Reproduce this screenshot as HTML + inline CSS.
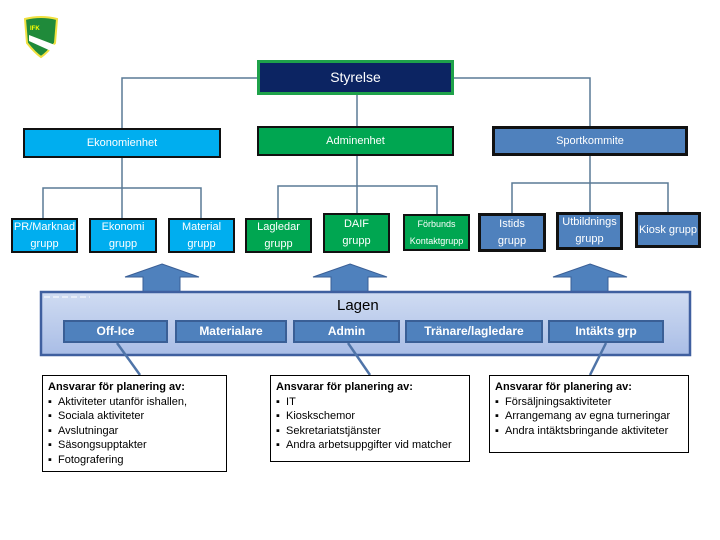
<!DOCTYPE html>
<html><head><meta charset="utf-8"><style>
body{margin:0;width:720px;height:540px;background:#fff;position:relative;overflow:hidden;font-family:"Liberation Sans",sans-serif;}
.b{position:absolute;box-sizing:border-box;display:flex;align-items:center;justify-content:center;text-align:center;color:#fff;font-size:11px;line-height:17px;}
.lb{background:#00aeef;border:2px solid #111;}
.gr{background:#00a651;border:2px solid #111;}
.bl{background:#4f81bd;border:3px solid #111;}
.in{background:#4f81bd;border:2px solid #3a5f96;font-weight:bold;font-size:12px;}
.t{position:absolute;box-sizing:border-box;border:1.5px solid #000;background:#fff;font-size:11px;line-height:14.5px;padding:4px 5px;color:#000;}
.t b{font-weight:bold;}
</style></head><body>
<svg width="720" height="540" style="position:absolute;left:0;top:0">
<g stroke="#5a7a96" stroke-width="1.5" fill="none">
<path d="M257 78H122V128"/><path d="M454 78H590V126"/><path d="M357 95V126"/>
<path d="M122 158V218M43 218V188H201V218"/>
<path d="M357 156V218M278 218V186H437V218"/>
<path d="M590 156V218M512 218V183H668V218"/>
</g>
<g fill="#4f81bd" stroke="#3a5f96" stroke-width="1">
<path d="M162 264L199 277H180V292H143V277H125Z"/>
<path d="M350 264L387 277H368V292H331V277H313Z"/>
<path d="M590 264L627 277H608V292H571V277H553Z"/>
</g>
<defs><linearGradient id="g" x1="0" y1="0" x2="0" y2="1"><stop offset="0" stop-color="#d0dcf2"/><stop offset="1" stop-color="#a9bde6"/></linearGradient></defs>
<rect x="41" y="292" width="649" height="63" fill="url(#g)" stroke="#3f5f9f" stroke-width="2.5"/>
<path d="M44 297H90" stroke="#fff" stroke-dasharray="6,3"/>
<g stroke="#4f74a8" stroke-width="2.5">
<path d="M117 343L140 375"/><path d="M348 343L370 375"/><path d="M606 343L590 375"/>
</g>
<g transform="translate(41,37)">
<path d="M-16 -18Q0 -22 16 -18L14 6Q6 16 0 20Q-6 16 -14 6Z" fill="#1f8a3a" stroke="#f0e040" stroke-width="2"/>
<path d="M-12 -2L14 8L10 14L-12 4Z" fill="#fff"/>
<text x="-11" y="-7" font-size="6" fill="#ff0" font-weight="bold">IFK</text>
</g>
</svg>
<div class="b" style="left:257px;top:60px;width:197px;height:35px;background:#0c2462;border:3px solid #1fa24a;font-size:14px;">Styrelse</div>
<div class="b lb" style="left:23px;top:128px;width:198px;height:30px;">Ekonomienhet</div>
<div class="b gr" style="left:257px;top:126px;width:197px;height:30px;">Adminenhet</div>
<div class="b bl" style="left:492px;top:126px;width:196px;height:30px;">Sportkommite</div>
<div class="b lb" style="left:11px;top:218px;width:67px;height:35px;">PR/Marknad<br>grupp</div>
<div class="b lb" style="left:89px;top:218px;width:68px;height:35px;">Ekonomi<br>grupp</div>
<div class="b lb" style="left:168px;top:218px;width:67px;height:35px;">Material<br>grupp</div>
<div class="b gr" style="left:245px;top:218px;width:67px;height:35px;">Lagledar<br>grupp</div>
<div class="b gr" style="left:323px;top:213px;width:67px;height:40px;">DAIF<br>grupp</div>
<div class="b gr" style="left:403px;top:214px;width:67px;height:37px;font-size:9px;">Förbunds<br>Kontaktgrupp</div>
<div class="b bl" style="left:478px;top:213px;width:68px;height:39px;">Istids<br>grupp</div>
<div class="b bl" style="left:556px;top:212px;width:67px;height:38px;">Utbildnings<br>grupp</div>
<div class="b bl" style="left:635px;top:212px;width:66px;height:36px;">Kiosk grupp</div>
<div style="position:absolute;left:337px;top:297px;font-size:15px;color:#000;">Lagen</div>
<div class="b in" style="left:63px;top:320px;width:105px;height:23px;">Off-Ice</div>
<div class="b in" style="left:175px;top:320px;width:112px;height:23px;">Materialare</div>
<div class="b in" style="left:293px;top:320px;width:107px;height:23px;">Admin</div>
<div class="b in" style="left:405px;top:320px;width:138px;height:23px;">Tränare/lagledare</div>
<div class="b in" style="left:548px;top:320px;width:116px;height:23px;">Intäkts grp</div>
<div class="t" style="left:42px;top:375px;width:185px;height:97px;"><b>Ansvarar för planering av:</b><div>▪&nbsp;&nbsp;Aktiviteter utanför ishallen,</div><div>▪&nbsp;&nbsp;Sociala aktiviteter</div><div>▪&nbsp;&nbsp;Avslutningar</div><div>▪&nbsp;&nbsp;Säsongsupptakter</div><div>▪&nbsp;&nbsp;Fotografering</div></div>
<div class="t" style="left:270px;top:375px;width:200px;height:87px;"><b>Ansvarar för planering av:</b><div>▪&nbsp;&nbsp;IT</div><div>▪&nbsp;&nbsp;Kioskschemor</div><div>▪&nbsp;&nbsp;Sekretariatstjänster</div><div>▪&nbsp;&nbsp;Andra arbetsuppgifter vid matcher</div></div>
<div class="t" style="left:489px;top:375px;width:200px;height:78px;"><b>Ansvarar för planering av:</b><div>▪&nbsp;&nbsp;Försäljningsaktiviteter</div><div>▪&nbsp;&nbsp;Arrangemang av egna turneringar</div><div>▪&nbsp;&nbsp;Andra intäktsbringande aktiviteter</div></div>
</body></html>
